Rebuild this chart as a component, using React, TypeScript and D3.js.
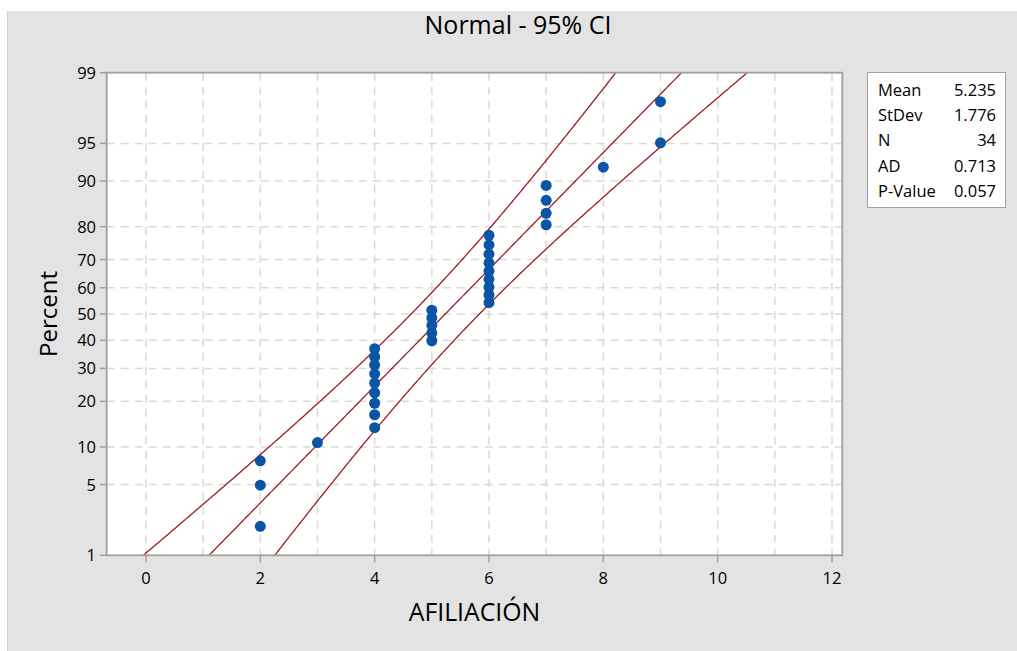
import React from "react";
import * as d3 from "d3";

// ---- data ----
const afiliacion: number[] = [2, 2, 2, 3, 4, 4, 4, 4, 4, 4, 4, 4, 4, 5, 5, 5, 5, 5, 6, 6, 6, 6, 6, 6, 6, 6, 6, 7, 7, 7, 7, 8, 9, 9];
const xTicks: number[] = [0, 2, 4, 6, 8, 10, 12];
const xGrid: number[] = [0, 1, 2, 3, 4, 5, 6, 7, 8, 9, 10, 11, 12];
const yTicks: number[] = [1, 5, 10, 20, 30, 40, 50, 60, 70, 80, 90, 95, 99];
const yGrid: number[] = [5, 10, 20, 30, 40, 50, 60, 70, 80, 90, 95];
const statLabels: string[] = ["Mean", "StDev", "N", "AD", "P-Value"];
const statValues: string[] = ["5.235", "1.776", "34", "0.713", "0.057"];
const meanVal = 5.235;
const sdVal = 1.776;

// inverse normal CDF (Acklam)
function qnorm(p: number): number {
  const a = [-3.969683028665376e1, 2.209460984245205e2, -2.759285104469687e2, 1.38357751867269e2, -3.066479806614716e1, 2.506628277459239];
  const b = [-5.447609879822406e1, 1.615858368580409e2, -1.556989798598866e2, 6.680131188771972e1, -1.328068155288572e1];
  const c = [-7.784894002430293e-3, -3.223964580411365e-1, -2.400758277161838, -2.549732539343734, 4.374664141464968, 2.938163982698783];
  const d = [7.784695709041462e-3, 3.224671290700398e-1, 2.445134137142996, 3.754408661907416];
  const pl = 0.02425;
  let q, r;
  if (p < pl) {
    q = Math.sqrt(-2 * Math.log(p));
    return (((((c[0] * q + c[1]) * q + c[2]) * q + c[3]) * q + c[4]) * q + c[5]) / ((((d[0] * q + d[1]) * q + d[2]) * q + d[3]) * q + 1);
  } else if (p <= 1 - pl) {
    q = p - 0.5;
    r = q * q;
    return ((((((a[0] * r + a[1]) * r + a[2]) * r + a[3]) * r + a[4]) * r + a[5]) * q) / (((((b[0] * r + b[1]) * r + b[2]) * r + b[3]) * r + b[4]) * r + 1);
  } else {
    q = Math.sqrt(-2 * Math.log(1 - p));
    return -(((((c[0] * q + c[1]) * q + c[2]) * q + c[3]) * q + c[4]) * q + c[5]) / ((((d[0] * q + d[1]) * q + d[2]) * q + d[3]) * q + 1);
  }
}

const W = 1017;
const H = 651;
const L = 106.7, R = 842.3, T = 72.7, B = 555.3;
const font = "'Open Sans', 'Noto Sans', sans-serif";

export default function App() {
  const x = d3.scaleLinear().domain([-0.687, 12.18]).range([L, R]);
  const y = d3.scaleLinear().domain([qnorm(0.01), qnorm(0.99)]).range([B, T]);
  const n = afiliacion.length;
  const pts = afiliacion.map((v, i) => ({ v, z: qnorm((i + 1 - 0.3) / (n + 0.4)) }));

  const zs = d3.range(-2.8, 2.8001, 0.02);
  const zc = 1.959964;
  const se = (z: number) => (sdVal / Math.sqrt(n)) * Math.sqrt(1 + (z * z) / 2);
  const line = d3.line<number>().x((z) => x(meanVal + sdVal * z)).y((z) => y(z));
  const lineLo = d3.line<number>().x((z) => x(meanVal + sdVal * z - zc * se(z))).y((z) => y(z));
  const lineHi = d3.line<number>().x((z) => x(meanVal + sdVal * z + zc * se(z))).y((z) => y(z));

  const red = "#9e1b1f";
  const blue = "#0a55a5";

  return (
    <svg width={W} height={H} style={{ position: "absolute", left: 0, top: 0, fontFamily: font }}>
      <rect x={0} y={0} width={W} height={H} fill="#ffffff" />
      <rect x={7} y={11} width={W - 7} height={H - 11} fill="#e3e3e3" />
      <line x1={7.5} y1={11} x2={7.5} y2={H} stroke="#cfcfcf" strokeWidth={1} />
      <text x={518} y={34} textAnchor="middle" fontSize={25} fill="#000">Normal - 95% CI</text>

      <defs>
        <clipPath id="plotclip">
          <rect x={L} y={T} width={R - L} height={B - T} />
        </clipPath>
      </defs>
      <rect x={L} y={T} width={R - L} height={B - T} fill="#ffffff" />
      {xGrid.map((g) => (
        <line key={"gx" + g} x1={x(g)} x2={x(g)} y1={T} y2={B} stroke="#d9d9d9" strokeWidth={1.5} strokeDasharray="8,6" />
      ))}
      {yGrid.map((g) => (
        <line key={"gy" + g} x1={L} x2={R} y1={y(qnorm(g / 100))} y2={y(qnorm(g / 100))} stroke="#d9d9d9" strokeWidth={1.5} strokeDasharray="8,6" />
      ))}
      <g clipPath="url(#plotclip)">
        <path d={line(zs) || ""} fill="none" stroke={red} strokeWidth={1.3} />
        <path d={lineLo(zs) || ""} fill="none" stroke={red} strokeWidth={1.3} />
        <path d={lineHi(zs) || ""} fill="none" stroke={red} strokeWidth={1.3} />
      </g>
      {pts.map((p, i) => (
        <circle key={"p" + i} cx={x(p.v)} cy={y(p.z)} r={5.5} fill={blue} />
      ))}
      <rect x={L} y={T} width={R - L} height={B - T} fill="none" stroke="#a0a0a0" strokeWidth={1.8} />

      {xTicks.map((t) => (
        <g key={"xt" + t}>
          <line x1={x(t)} x2={x(t)} y1={B} y2={B + 7} stroke="#a0a0a0" strokeWidth={1.5} />
          <text x={x(t)} y={584} textAnchor="middle" fontSize={16.5} fill="#000">{t}</text>
        </g>
      ))}
      {yTicks.map((t) => (
        <g key={"yt" + t}>
          <line x1={L - 7} x2={L} y1={y(qnorm(t / 100))} y2={y(qnorm(t / 100))} stroke="#a0a0a0" strokeWidth={1.5} />
          <text x={96} y={y(qnorm(t / 100)) + 6} textAnchor="end" fontSize={16.5} fill="#000">{t}</text>
        </g>
      ))}
      <text x={474.5} y={621} textAnchor="middle" fontSize={24.8} fill="#000">AFILIACIÓN</text>
      <text transform={`translate(57,${(T + B) / 2}) rotate(-90)`} textAnchor="middle" fontSize={24} fill="#000">Percent</text>

      <rect x={867.5} y={72.5} width={138} height={135} fill="#ffffff" stroke="#a0a0a0" strokeWidth={1} />
      {statLabels.map((s, i) => (
        <g key={"st" + i}>
          <text x={878} y={96 + i * 25.2} fontSize={16.5} fill="#000">{s}</text>
          <text x={996} y={96 + i * 25.2} fontSize={16.5} textAnchor="end" fill="#000">{statValues[i]}</text>
        </g>
      ))}
    </svg>
  );
}
